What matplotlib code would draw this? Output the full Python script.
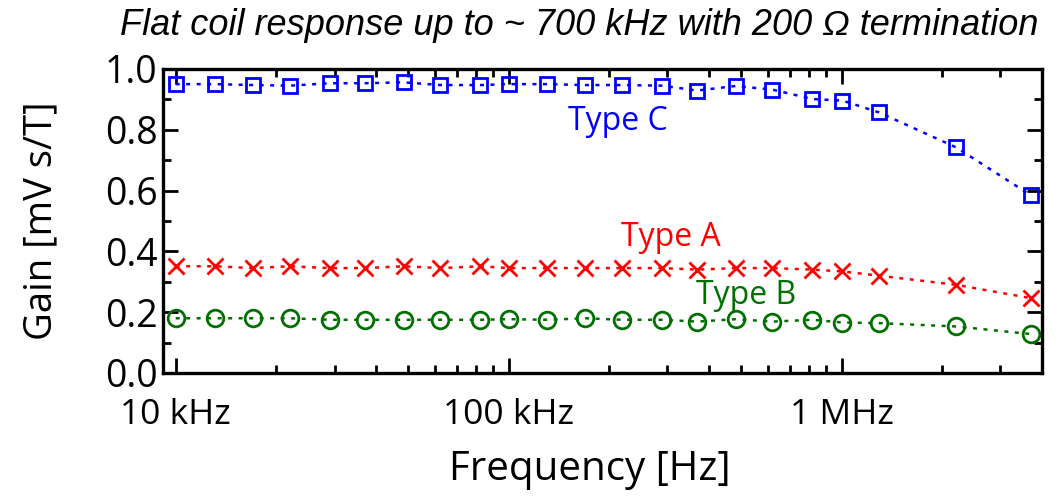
import numpy as np
import matplotlib
matplotlib.use("Agg")
from matplotlib import pyplot as plt
from matplotlib.ticker import FixedLocator, LogLocator, MultipleLocator, NullFormatter

# frequencies of the calibration points [Hz]
freq = [10e3, 13.1e3, 17.1e3, 22e3, 29.1e3, 37.1e3, 48.4e3, 62.4e3, 82.3e3, 100e3,
        130.6e3, 170e3, 219e3, 289e3, 369e3, 481e3, 620e3, 818e3, 1.006e6, 1.297e6,
        2.21e6, 3.71e6]

# measured gains [mV s/T]
gain_a = [0.351, 0.351, 0.345, 0.351, 0.345, 0.345, 0.351, 0.345, 0.351, 0.345,
          0.345, 0.345, 0.345, 0.345, 0.340, 0.345, 0.345, 0.340, 0.334, 0.320,
          0.290, 0.246]
gain_b = [0.180, 0.180, 0.180, 0.180, 0.175, 0.175, 0.175, 0.175, 0.175, 0.177,
          0.175, 0.180, 0.175, 0.175, 0.169, 0.177, 0.169, 0.175, 0.166, 0.164,
          0.153, 0.128]
gain_c = [0.950, 0.950, 0.947, 0.945, 0.953, 0.953, 0.956, 0.947, 0.947, 0.950,
          0.950, 0.947, 0.947, 0.945, 0.929, 0.944, 0.932, 0.901, 0.896, 0.857,
          0.742, 0.584]

xticks = [1e4, 1e5, 1e6]
xticklabels = ['10 kHz', '100 kHz', '1 MHz']
yticks = [0.0, 0.2, 0.4, 0.6, 0.8, 1.0]
yticklabels = ['0.0', '0.2', '0.4', '0.6', '0.8', '1.0']

green = '#007000'

plt.rcParams['font.family'] = ['Open Sans', 'DejaVu Sans']

fig = plt.figure(figsize=(10.59, 4.96), dpi=100)
ax = fig.add_axes([0.1539, 0.248, 0.8300, 0.613])

dash = (1.6, 2.6)
ax.plot(freq, gain_c, color='blue', lw=1.8, dashes=dash, marker='s', ms=10.5,
        mew=2.0, mfc='none')
ax.plot(freq, gain_a, color='red', lw=1.8, dashes=dash, marker='x', ms=11,
        mew=2.0)
ax.plot(freq, gain_b, color=green, lw=1.8, dashes=dash, marker='o', ms=12,
        mew=2.0, mfc='none')

ax.text(151e3, 0.799, 'Type C', color='blue', fontsize=23, va='baseline')
ax.text(217e3, 0.417, 'Type A', color='red', fontsize=23, va='baseline')
ax.text(365e3, 0.228, 'Type B', color=green, fontsize=23, va='baseline')

ax.set_xscale('log')
ax.set_xlim(9.16e3, 4.0e6)
ax.set_ylim(0, 1)

ax.xaxis.set_major_locator(FixedLocator(xticks))
ax.set_xticklabels(xticklabels)
ax.xaxis.set_minor_locator(LogLocator(base=10, subs=np.arange(2, 10)))
ax.xaxis.set_minor_formatter(NullFormatter())
ax.set_yticks(yticks)
ax.set_yticklabels(yticklabels)
ax.yaxis.set_minor_locator(MultipleLocator(0.1))

ax.tick_params(which='both', direction='in', top=True, right=True, width=2)
ax.tick_params(which='major', length=11)
ax.tick_params(which='minor', length=6)
ax.tick_params(axis='x', pad=18, labelsize=25.5)
ax.tick_params(axis='y', pad=4, labelsize=27)
for s in ax.spines.values():
    s.set_linewidth(2.4)

ax.set_xlabel('Frequency [Hz]', fontsize=29)
ax.xaxis.set_label_coords(0.486, -0.25)
ax.set_ylabel('Gain [mV s/T]', fontsize=27.5)
ax.yaxis.set_label_coords(-0.117, 0.5)

ax.set_title('Flat coil response up to ~ 700 kHz with 200 \u03a9 termination',
             fontfamily='Liberation Sans', fontstyle='italic', fontsize=26,
             x=0.474, y=1.112, pad=0)

fig.savefig('out.png', dpi=100)
